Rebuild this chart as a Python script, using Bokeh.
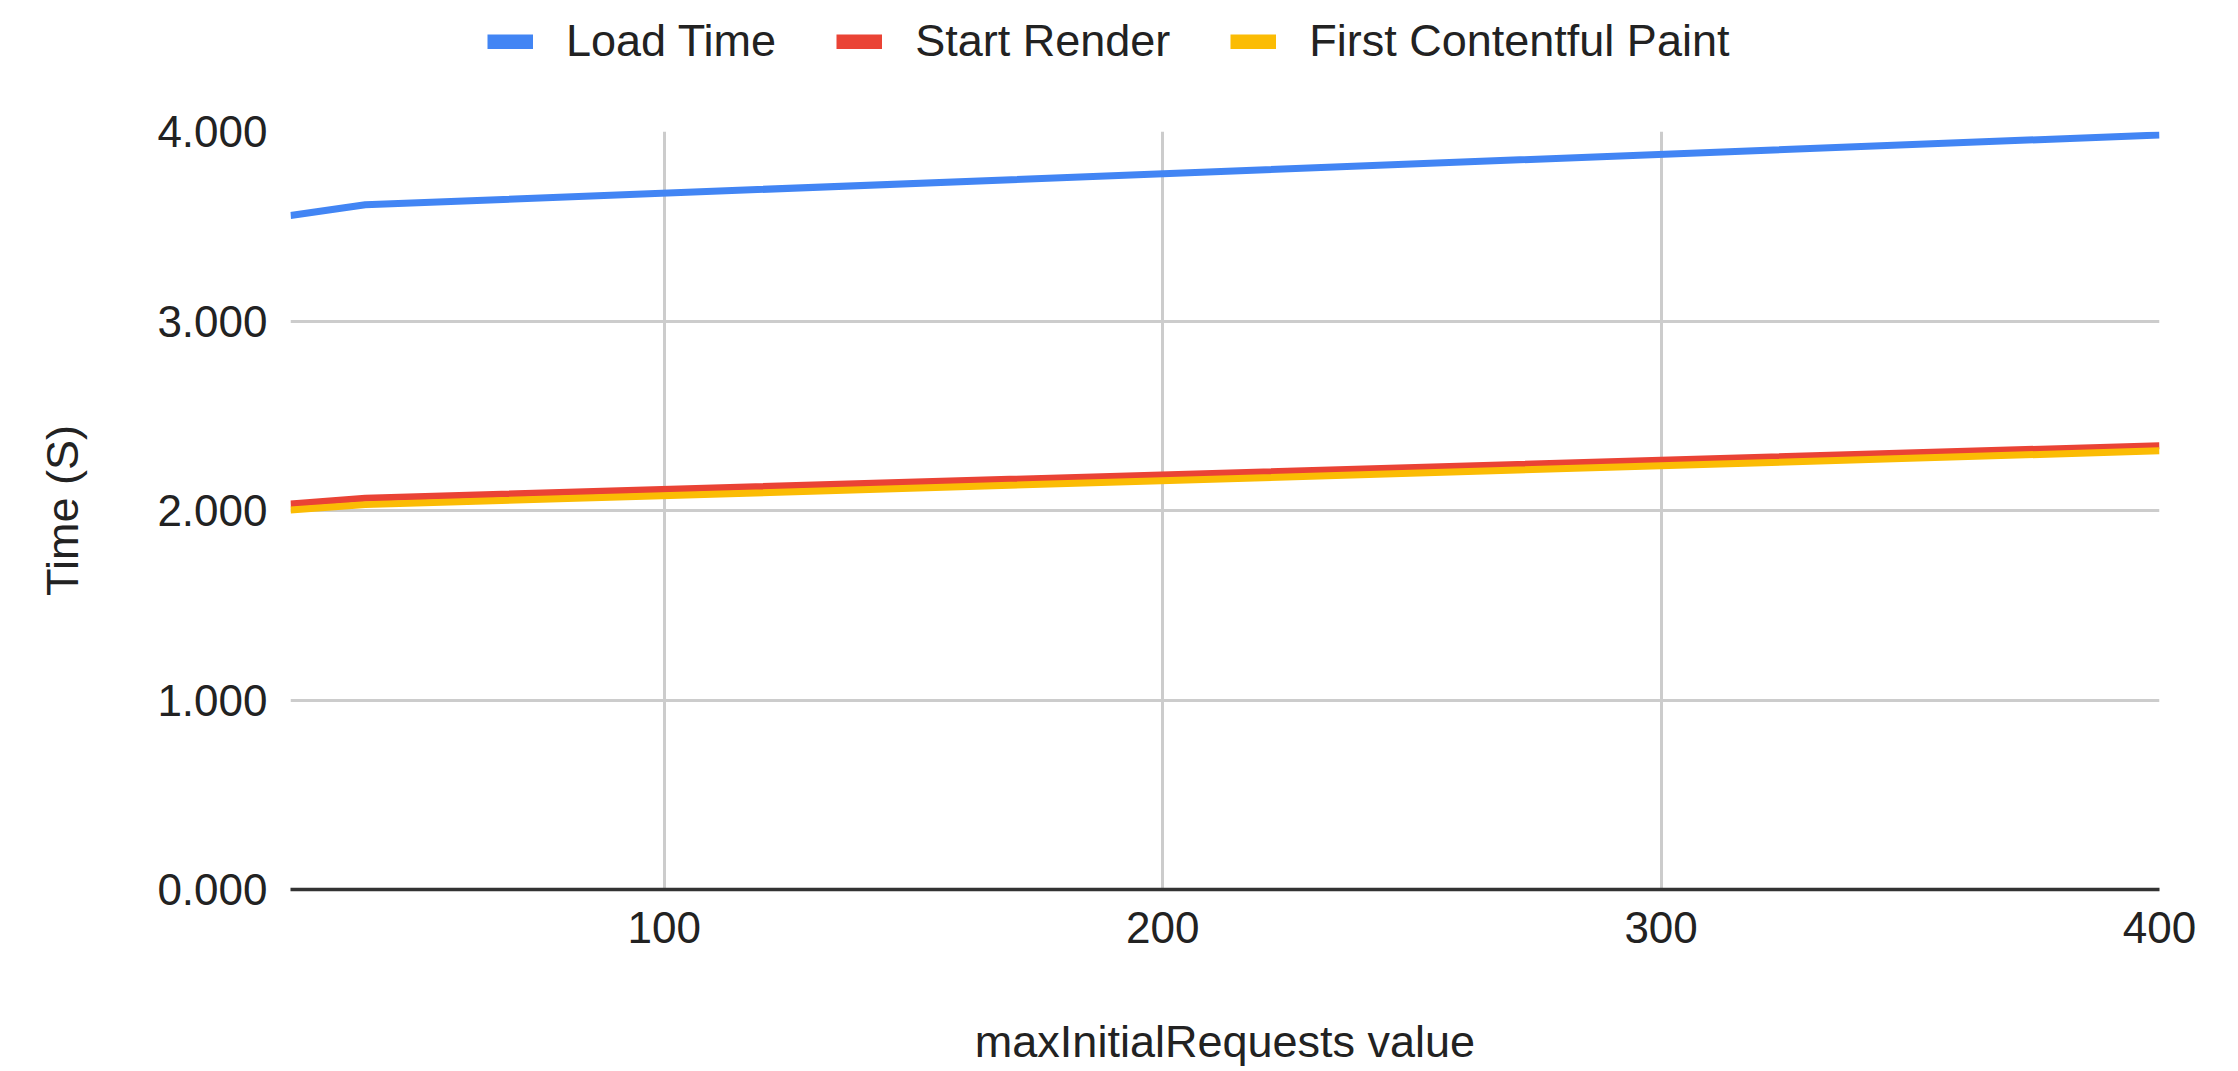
import numpy as np
from bokeh.plotting import figure
from bokeh.layouts import column
from bokeh.models import (ColumnDataSource, Legend, LegendItem, FixedTicker,
                          NumeralTickFormatter, Range1d)
from bokeh.embed import file_html
from bokeh.resources import INLINE

# ---- data ----
x_values = [25, 40, 400]
load_time = [3.557, 3.613, 3.982]
start_render = [2.035, 2.065, 2.342]
first_contentful_paint = [2.003, 2.031, 2.315]
series_names = ["Load Time", "Start Render", "First Contentful Paint"]
series_colors = ["#4285F4", "#EA4335", "#FBBC04"]
x_ticks = [100, 200, 300, 400]
y_ticks = [0, 1, 2, 3, 4]
x_title = "maxInitialRequests value"
y_title = "Time (S)"

FONT = "Liberation Sans"
TEXT = "#222222"
W = 2236
BL, BR = 290, 77

# ---------- legend strip on top ----------
lg = figure(width=W, height=100, output_backend="svg", toolbar_location=None,
            x_axis_type=None, y_axis_type=None,
            x_range=Range1d(0, 1), y_range=Range1d(0, 1),
            min_border_left=BL, min_border_right=BR,
            min_border_top=0, min_border_bottom=0)
lg.outline_line_color = None
lg.background_fill_color = "white"
lg.border_fill_color = "white"
items = []
for name, col in zip(series_names, series_colors):
    # legend proxy: a NaN point, so nothing is drawn in the plot itself
    r = lg.line(x=np.array([np.nan]), y=np.array([np.nan]), line_color=col,
                line_width=15, line_cap="butt")
    items.append(LegendItem(label=name, renderers=[r]))
legend = Legend(items=items, orientation="horizontal", location=(197, 33),
                label_text_font=FONT, label_text_font_size="45px",
                label_text_color=TEXT, glyph_width=46, glyph_height=15,
                label_standoff=33, spacing=60, padding=0, margin=0,
                label_height=52, border_line_color=None,
                background_fill_alpha=0)
lg.add_layout(legend)

# ---------- main chart ----------
p = figure(width=W, height=969, output_backend="svg", toolbar_location=None,
           x_range=Range1d(min(x_values), max(x_ticks)),
           y_range=Range1d(min(y_ticks), max(y_ticks)),
           min_border_left=BL, min_border_right=BR,
           min_border_top=31, min_border_bottom=178)
p.outline_line_color = None
p.background_fill_color = "white"
p.border_fill_color = "white"

src = ColumnDataSource(dict(x=x_values, load=load_time, sr=start_render,
                            fcp=first_contentful_paint))
cols = ["load", "sr", "fcp"]
for c, col in zip(cols, series_colors):
    p.line("x", c, source=src, line_color=col, line_width=7,
           line_join="round", line_cap="butt")

p.xaxis.ticker = FixedTicker(ticks=x_ticks)
p.yaxis.ticker = FixedTicker(ticks=y_ticks)
p.yaxis.formatter = NumeralTickFormatter(format="0.000")
for ax in (p.xaxis, p.yaxis):
    ax.major_tick_line_color = None
    ax.minor_tick_line_color = None
    ax.major_label_text_font = FONT
    ax.major_label_text_font_size = "44px"
    ax.major_label_text_color = TEXT
    ax.axis_label_text_font = FONT
    ax.axis_label_text_font_size = "45px"
    ax.axis_label_text_font_style = "normal"
    ax.axis_label_text_color = TEXT
p.xaxis.axis_label = x_title
p.yaxis.axis_label = y_title
p.xaxis.axis_line_color = "#333333"
p.xaxis.axis_line_width = 3.5
p.yaxis.axis_line_color = None
p.xaxis.major_label_standoff = 16
p.xaxis.axis_label_standoff = 70
p.yaxis.major_label_standoff = 17
p.yaxis.axis_label_standoff = 66

p.xgrid.grid_line_color = "#cccccc"
p.xgrid.grid_line_width = 3
p.ygrid.grid_line_color = "#cccccc"
p.ygrid.grid_line_width = 3

layout = column(lg, p, spacing=0)
open("out.html", "w").write(file_html(layout, INLINE))
